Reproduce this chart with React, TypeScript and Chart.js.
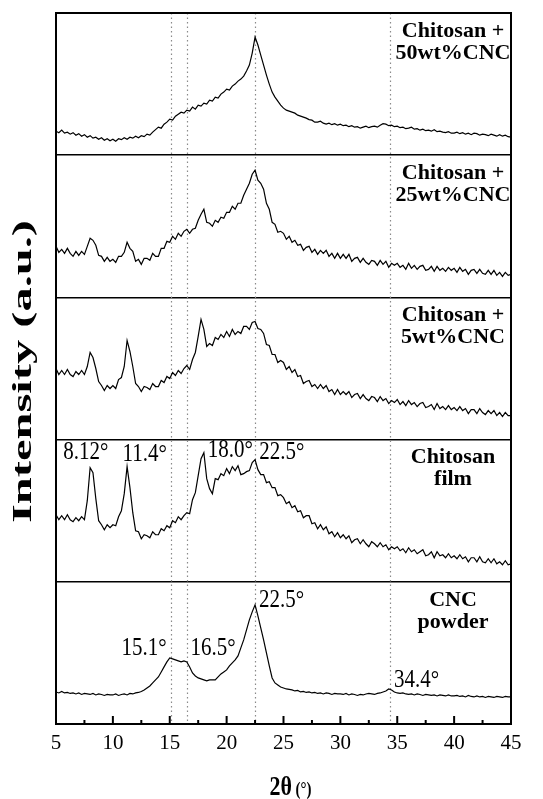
import { useEffect, useRef } from 'react';
import { Chart, registerables } from 'chart.js';

Chart.register(...registerables);

// 2θ sampling of every pattern: first angle and step (degrees)
const START_2THETA = 5;
const STEP_2THETA = 0.25;

// Intensities (a.u.), 5.00° .. 45.00° every 0.25°
const chitosan50CNC = [
  24, 22.5, 25, 22, 23, 21, 22.5, 20, 21.5, 19, 20.5, 18, 19.5, 17, 18, 16, 17.5, 15, 16.5, 14.5,
  16, 14, 16.5, 15.5, 17.5, 16, 18, 17, 19, 17.5, 19.5, 18.5, 21, 20, 23, 25.5, 28, 27, 31, 33,
  36, 35, 39, 41, 43, 42, 45, 44, 48, 46, 50, 49, 52, 51, 55, 54, 58, 57, 61, 63,
  66, 65, 69, 71, 74, 76, 79, 84, 90, 102, 118, 110, 100, 90, 80, 71, 63, 58, 54, 50,
  47, 45, 44, 43, 42, 40, 39, 38, 37, 35.5, 35, 33, 33, 34, 32, 31, 32, 30.5, 31.5, 30,
  31, 29.5, 30, 28.5, 29.5, 28, 28.5, 27, 28, 29, 27.5, 28.5, 29, 28, 30, 31.5, 31, 29.5, 30, 28.5,
  29, 27.5, 28, 26.5, 27, 28, 26, 26.5, 25, 26, 24.5, 25, 24, 25.5, 23.5, 24, 23, 22.5, 23.5, 22,
  22, 23, 21.5, 22.5, 21, 22, 20.5, 22, 21.5, 20, 21, 20.5, 19.5, 21, 20, 19, 20.5, 19, 20, 18.5,
  18,
];

const chitosan25CNC = [
  51, 45, 48, 44, 49, 44, 41, 46, 42, 46, 43, 51, 59, 57, 52, 42, 41, 36, 40, 36,
  38, 35, 41, 41, 45, 55, 49, 46, 36, 38, 33, 39, 39, 37, 44, 41, 41, 49, 49, 56,
  55, 61, 58, 64, 61, 66, 68, 64, 68, 69, 77, 83, 88, 75, 74, 71, 77, 75, 80, 79,
  85, 85, 91, 88, 94, 94, 102, 108, 114, 123, 127, 117, 114, 108, 94, 88, 75, 73, 65, 66,
  64, 58, 61, 55, 57, 52, 53, 47, 50, 51, 45, 48, 43, 47, 44, 47, 41, 44, 39, 44,
  39, 43, 39, 43, 36, 39, 40, 35, 39, 35, 33, 37, 36, 32, 37, 33, 36, 30, 34, 32,
  34, 30, 32, 28, 34, 29, 32, 28, 31, 32, 27, 28, 31, 26, 31, 27, 29, 26, 30, 27,
  29, 25, 30, 26, 28, 23, 27, 28, 24, 28, 24, 23, 27, 23, 27, 22, 25, 21, 25, 22,
  23,
];

const chitosan5CNC = [
  71, 65, 69, 65, 70, 65, 63, 68, 65, 69, 65, 73, 87, 82, 71, 58, 54, 49, 54, 51,
  54, 51, 60, 62, 73, 99, 88, 73, 56, 53, 48, 53, 52, 50, 56, 53, 53, 59, 57, 63,
  61, 67, 64, 69, 66, 71, 74, 70, 80, 87, 103, 120, 110, 93, 96, 94, 102, 100, 105, 102,
  108, 103, 110, 105, 108, 106, 113, 113, 110, 117, 118, 111, 110, 106, 95, 94, 85, 85, 77, 79,
  77, 70, 73, 67, 70, 63, 64, 56, 58, 59, 53, 55, 51, 55, 51, 54, 48, 50, 45, 50,
  45, 48, 45, 48, 42, 45, 46, 41, 45, 41, 39, 43, 42, 38, 43, 39, 41, 36, 39, 37,
  40, 35, 38, 34, 39, 35, 37, 33, 36, 37, 32, 33, 35, 30, 36, 31, 33, 30, 34, 30,
  32, 29, 33, 29, 31, 26, 30, 30, 26, 31, 27, 25, 29, 26, 29, 24, 27, 23, 27, 24,
  24,
];

const chitosanFilm = [
  67, 62, 66, 62, 67, 62, 60, 64, 61, 65, 62, 81, 114, 109, 83, 61, 57, 52, 57, 54,
  57, 56, 65, 71, 88, 115, 94, 69, 51, 50, 43, 47, 46, 44, 50, 47, 47, 53, 51, 56,
  54, 61, 59, 65, 62, 66, 69, 68, 82, 89, 106, 123, 129, 103, 93, 88, 103, 102, 108, 106,
  113, 108, 115, 111, 116, 107, 108, 110, 111, 119, 122, 112, 107, 107, 99, 100, 94, 94, 86, 87,
  84, 78, 80, 74, 76, 70, 71, 64, 66, 66, 58, 59, 53, 57, 52, 55, 48, 50, 45, 49,
  44, 47, 43, 46, 39, 42, 43, 38, 42, 38, 35, 40, 38, 35, 39, 35, 37, 32, 35, 33,
  35, 31, 33, 29, 34, 30, 32, 28, 30, 32, 26, 27, 30, 24, 30, 26, 27, 24, 28, 24,
  26, 23, 27, 23, 25, 20, 24, 24, 20, 25, 20, 19, 23, 19, 23, 18, 20, 17, 21, 17,
  18,
];

const cncPowder = [
  32, 31, 32.5, 31, 31.5, 30.5, 31, 30, 31, 29.5, 30.5, 30, 29.5, 30.5, 29, 30, 29.5, 28.5, 29.5, 29,
  29, 30, 28.5, 29.5, 30, 29, 30.5, 30, 31, 31.5, 32.5, 34, 36, 38, 41, 44, 47, 52, 57, 62,
  66, 65, 64, 63, 62, 63, 62, 57, 51, 48, 46, 45, 44, 43, 44, 44, 44, 47, 50, 52,
  54, 58, 61, 64, 68, 76, 84, 94, 104, 112, 119, 108, 96, 84, 71, 58, 46, 41, 39, 37,
  36, 35, 34.5, 34, 33, 33.5, 32, 32.5, 31.5, 32, 31, 31.5, 30.5, 31, 30, 31, 30.5, 29.5, 30.5, 30,
  30, 29.5, 30.5, 29, 30, 29.5, 28.5, 29.5, 29, 30, 30.5, 30, 29.5, 30.5, 31, 32, 33, 35, 34, 32,
  31, 30.5, 31, 30, 29.5, 30, 29, 30, 29.5, 28.5, 29.5, 29, 28.5, 29, 28, 29, 28.5, 28, 29, 28,
  28, 28.5, 27.5, 28, 27, 28.5, 27.5, 27, 28, 27, 27.5, 26.5, 27.5, 27, 26.5, 27.5, 27, 26.5, 27.5, 27,
  27,
];

// bottom-to-top panel order
const seriesNames = ['CNC powder', 'Chitosan film', 'Chitosan + 5wt%CNC', 'Chitosan + 25wt%CNC', 'Chitosan + 50wt%CNC'];
const seriesValues = [cncPowder, chitosanFilm, chitosan5CNC, chitosan25CNC, chitosan50CNC];
const panelLabelLines = [
  ['CNC', 'powder'],
  ['Chitosan', 'film'],
  ['Chitosan +', '5wt%CNC'],
  ['Chitosan +', '25wt%CNC'],
  ['Chitosan +', '50wt%CNC'],
];

// layout of the stacked panels on the shared intensity axis
const panelOffsets = [0, 142, 284, 426, 568];
const panelBounds = [0, 142, 284, 426, 568, 710];

// x axis
const X_MIN = 5;
const X_MAX = 45;
const X_STEP = 2.5;
const xTickLabels = ['5', '10', '15', '20', '25', '30', '35', '40', '45'];

// dotted reference lines (2θ)
const referenceLines = [15.1, 16.5, 22.5, 34.4];

// peak annotations: text, 2θ of text centre, axis value of text centre
const peakLabelText = ['8.12°', '11.4°', '18.0°', '22.5°', '22.5°', '15.1°', '16.5°', '34.4°'];
const peakLabelX = [7.62, 12.8, 20.32, 24.85, 24.82, 12.74, 18.8, 36.69];
const peakLabelY = [271, 269, 273, 271, 123, 76, 76, 44];

// panel label position (2θ of centre, heights inside the panel)
const PANEL_LABEL_X = 39.9;
const panelLabelLineY = [124, 102];

const X_TITLE_MAIN = '2θ';
const X_TITLE_UNIT = ' (°)';
const Y_TITLE = 'Intensity (a.u.)';

const SERIF = "'Liberation Serif', 'DejaVu Serif', serif";

const decorPlugin = {
  id: 'xrdDecor',
  beforeDatasetsDraw(chart: any) {
    const { ctx, chartArea, scales } = chart;
    const xs = scales.x;
    ctx.save();
    ctx.strokeStyle = '#8a8a8a';
    ctx.lineWidth = 1.2;
    ctx.setLineDash([1.5, 3]);
    referenceLines.forEach((v) => {
      const px = Math.round(xs.getPixelForValue(v)) + 0.5;
      ctx.beginPath();
      ctx.moveTo(px, chartArea.top);
      ctx.lineTo(px, chartArea.bottom);
      ctx.stroke();
    });
    ctx.restore();
  },
  afterDraw(chart: any) {
    const { ctx, chartArea, scales } = chart;
    const xs = scales.x;
    const ys = scales.y;
    ctx.save();
    // frame
    ctx.strokeStyle = '#000';
    ctx.lineWidth = 2;
    ctx.setLineDash([]);
    ctx.strokeRect(chartArea.left, chartArea.top, chartArea.right - chartArea.left, chartArea.bottom - chartArea.top);
    // inward tick marks
    xs.ticks.forEach((t: any) => {
      const px = xs.getPixelForValue(t.value);
      const major = Math.abs(t.value / 5 - Math.round(t.value / 5)) < 1e-6;
      const len = major ? 8 : 4;
      ctx.beginPath();
      ctx.moveTo(px, chartArea.bottom);
      ctx.lineTo(px, chartArea.bottom - len);
      ctx.stroke();
    });

    ctx.fillStyle = '#000';
    // panel labels
    ctx.font = `bold 22px ${SERIF}`;
    ctx.textAlign = 'center';
    ctx.textBaseline = 'middle';
    panelLabelLines.forEach((lines, i) => {
      lines.forEach((line, j) => {
        const px = xs.getPixelForValue(PANEL_LABEL_X);
        const py = ys.getPixelForValue(panelOffsets[i] + panelLabelLineY[j]);
        ctx.fillText(line, px, py);
      });
    });

    // peak labels
    ctx.font = `21px ${SERIF}`;
    peakLabelText.forEach((txt, i) => {
      const px = xs.getPixelForValue(peakLabelX[i]);
      const py = ys.getPixelForValue(peakLabelY[i]);
      ctx.save();
      ctx.translate(px, py);
      ctx.scale(1, 1.2);
      ctx.fillText(txt, 0, 0);
      ctx.restore();
    });

    // x title
    ctx.textAlign = 'left';
    ctx.textBaseline = 'alphabetic';
    ctx.font = `bold 22px ${SERIF}`;
    const wMain = ctx.measureText(X_TITLE_MAIN).width;
    ctx.font = `bold 15px ${SERIF}`;
    const wUnit = ctx.measureText(X_TITLE_UNIT).width;
    const cx = (chartArea.left + chartArea.right) / 2 + 7;
    const startX = cx - (wMain + wUnit) / 2;
    const baseY = 795;
    ctx.save();
    ctx.translate(startX, baseY);
    ctx.scale(1, 1.2);
    ctx.font = `bold 22px ${SERIF}`;
    ctx.fillText(X_TITLE_MAIN, 0, 0);
    ctx.font = `bold 15px ${SERIF}`;
    ctx.fillText(X_TITLE_UNIT, wMain, 0);
    ctx.restore();

    // y title
    ctx.save();
    ctx.translate(24, (chartArea.top + chartArea.bottom) / 2 + 3);
    ctx.rotate(-Math.PI / 2);
    ctx.font = `bold 27px ${SERIF}`;
    ctx.textAlign = 'center';
    ctx.textBaseline = 'middle';
    const wy = ctx.measureText(Y_TITLE).width;
    ctx.scale(303 / wy, 1);
    ctx.fillText(Y_TITLE, 0, 0);
    ctx.restore();

    ctx.restore();
  },
};

export default function App() {
  const canvasRef = useRef<HTMLCanvasElement | null>(null);

  useEffect(() => {
    if (!canvasRef.current) return;
    const datasets = seriesValues.map((vals, i) => ({
      label: seriesNames[i],
      data: vals.map((v, k) => ({ x: START_2THETA + k * STEP_2THETA, y: v + panelOffsets[i] })),
      borderColor: '#000',
      borderWidth: 1.2,
      pointRadius: 0,
      tension: 0,
      fill: false,
    }));
    const chart = new Chart(canvasRef.current, {
      type: 'line',
      data: { datasets },
      options: {
        animation: false,
        responsive: false,
        devicePixelRatio: 1,
        layout: { padding: { top: 13, right: 32, left: 0, bottom: 0 } },
        plugins: {
          legend: { display: false },
          tooltip: { enabled: false },
          title: { display: false },
        },
        scales: {
          x: {
            type: 'linear',
            min: X_MIN,
            max: X_MAX,
            ticks: {
              stepSize: X_STEP,
              autoSkip: false,
              maxRotation: 0,
              color: '#000',
              padding: 7,
              font: { family: SERIF, size: 21 },
              callback: (v: any) => (xTickLabels.includes(String(v)) ? String(v) : ''),
            },
            grid: { display: false, drawTicks: false },
            border: { display: true, color: '#000', width: 2 },
            afterFit: (scale: any) => {
              scale.height = 75;
            },
          },
          y: {
            type: 'linear',
            min: panelBounds[0],
            max: panelBounds[panelBounds.length - 1],
            ticks: { display: false },
            grid: { color: '#000', lineWidth: 1.6, drawTicks: false },
            border: { display: true, color: '#000', width: 2 },
            afterBuildTicks: (scale: any) => {
              scale.ticks = panelBounds.map((v) => ({ value: v }));
            },
            afterFit: (scale: any) => {
              scale.width = 56;
            },
          },
        },
      },
      plugins: [decorPlugin],
    } as any);
    return () => chart.destroy();
  }, []);

  return (
    <div style={{ position: 'fixed', left: 0, top: 0, width: 543, height: 799, background: '#fff' }}>
      <canvas ref={canvasRef} width={543} height={799} style={{ width: 543, height: 799 }} />
    </div>
  );
}
